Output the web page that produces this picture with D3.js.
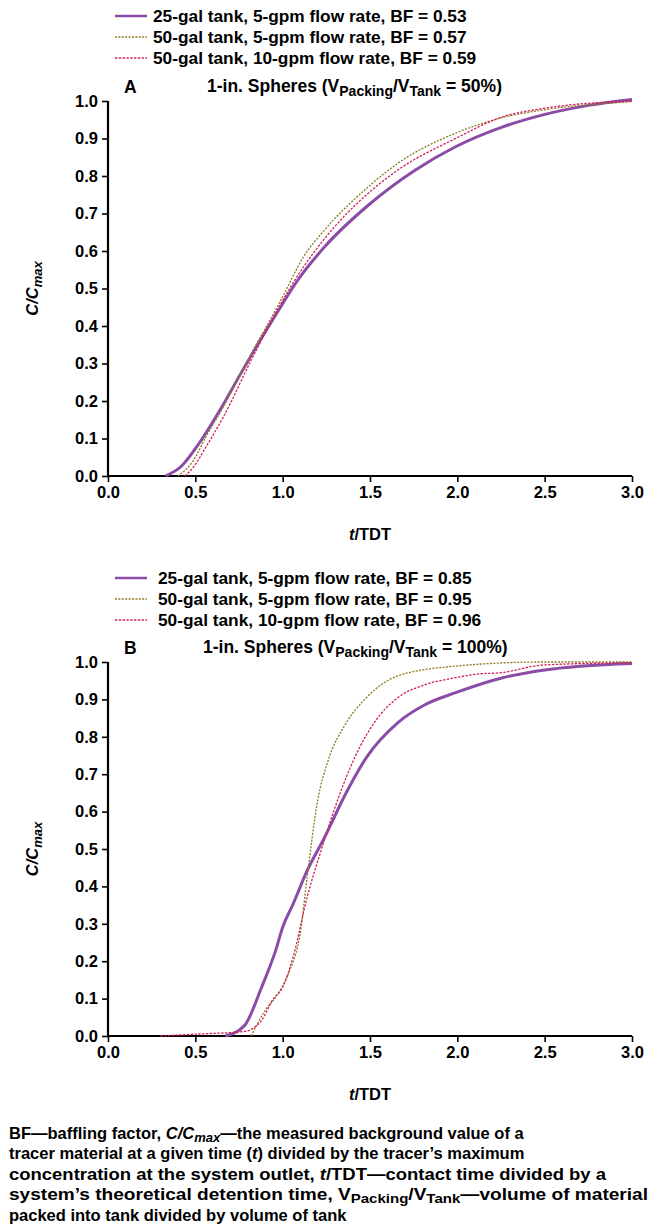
<!DOCTYPE html>
<html>
<head>
<meta charset="utf-8">
<script src="https://cdn.jsdelivr.net/npm/d3@7"></script>
<style>
  body { margin: 0; background: #fff; }
  svg { display: block; font-family: "Liberation Sans", Arial, Helvetica, sans-serif; font-weight: bold; }
</style>
</head>
<body>
<svg id="chart" width="658" height="1226"></svg>
<script>
// --- Data (t/TDT, C/Cmax) ---
const xTicks = [0.0, 0.5, 1.0, 1.5, 2.0, 2.5, 3.0];
const yTicks = [0.0, 0.1, 0.2, 0.3, 0.4, 0.5, 0.6, 0.7, 0.8, 0.9, 1.0];

const legendA = [
  "25-gal tank, 5-gpm flow rate, BF = 0.53",
  "50-gal tank, 5-gpm flow rate, BF = 0.57",
  "50-gal tank, 10-gpm flow rate, BF = 0.59"
];
const legendB = [
  "25-gal tank, 5-gpm flow rate, BF = 0.85",
  "50-gal tank, 5-gpm flow rate, BF = 0.95",
  "50-gal tank, 10-gpm flow rate, BF = 0.96"
];

// Panel A: 50% packing
const a25gal5gpm = [[0.33,0],[0.42,0.026],[0.52,0.086],[0.64,0.175],[0.76,0.273],[0.86,0.353],[0.99,0.452],[1.08,0.518],[1.24,0.611],[1.49,0.722],[1.76,0.816],[1.99,0.878],[2.26,0.931],[2.49,0.963],[2.76,0.989],[3.0,1.004]];
const a50gal5gpm = [[0.40,0],[0.49,0.042],[0.56,0.104],[0.66,0.184],[0.82,0.326],[0.99,0.469],[1.12,0.585],[1.24,0.656],[1.49,0.771],[1.66,0.834],[1.99,0.914],[2.26,0.956],[2.49,0.976],[3.0,0.998]];
const a50gal10gpm = [[0.44,0],[0.49,0.024],[0.56,0.077],[0.66,0.157],[0.82,0.309],[0.99,0.46],[1.12,0.558],[1.24,0.633],[1.49,0.754],[1.66,0.816],[1.99,0.9],[2.26,0.958],[2.49,0.98],[3.0,1.0]];

// Panel B: 100% packing
const b25gal5gpm = [[0.67,0],[0.78,0.027],[0.88,0.131],[0.96,0.229],[1.0,0.291],[1.06,0.353],[1.14,0.442],[1.24,0.531],[1.36,0.647],[1.48,0.745],[1.66,0.838],[1.82,0.887],[1.99,0.918],[2.26,0.958],[2.49,0.978],[3.0,0.996]];
const b50gal5gpm = [[0.82,0],[0.90,0.069],[0.96,0.104],[1.04,0.175],[1.10,0.273],[1.14,0.424],[1.20,0.629],[1.26,0.736],[1.36,0.834],[1.48,0.905],[1.66,0.963],[1.99,0.989],[2.49,1.0],[3.0,1.0]];
const b50gal10gpm = [[0.30,0],[0.5,0.005],[0.78,0.012],[0.88,0.042],[0.94,0.095],[1.0,0.131],[1.06,0.211],[1.14,0.371],[1.22,0.496],[1.32,0.638],[1.44,0.771],[1.56,0.86],[1.66,0.905],[1.82,0.94],[1.99,0.958],[2.1,0.967],[2.26,0.972],[2.49,0.992],[3.0,0.998]];

const seriesStyles = [
  { color: "#8a4ca6", width: 3, dash: null },
  { color: "#8c7a1e", width: 1.3, dash: "2,1.4" },
  { color: "#d2205a", width: 1.3, dash: "2.4,1.4" }
];

const svg = d3.select("#chart");

function drawPanel(opts) {
  const x = d3.scaleLinear().domain([0, 3]).range([108, 632]);
  const y = d3.scaleLinear().domain([0, 1]).range([opts.bottom, opts.top]);

  // legend
  const leg = svg.append("g");
  opts.legend.forEach((label, i) => {
    const st = seriesStyles[i];
    const ly = opts.legendY + i * 21;
    leg.append("line")
      .attr("x1", 115).attr("x2", 147).attr("y1", ly).attr("y2", ly)
      .attr("stroke", st.color).attr("stroke-width", st.width === 3 ? 2.5 : 1.3)
      .attr("stroke-dasharray", st.dash);
    leg.append("text")
      .attr("x", opts.legendTextX).attr("y", ly + 6)
      .attr("font-size", 17.3)
      .text(label);
  });

  // panel letter and title
  svg.append("text").attr("x", 124).attr("y", opts.top - 8)
    .attr("font-size", 17.5).text(opts.letter);
  const title = svg.append("text").attr("x", opts.titleX).attr("y", opts.top - 9)
    .attr("font-size", 17.5);
  title.append("tspan").text("1-in. Spheres (V");
  title.append("tspan").attr("font-size", 14).attr("dy", 4).text("Packing");
  title.append("tspan").attr("dy", -4).text("/V");
  title.append("tspan").attr("font-size", 14).attr("dy", 4).text("Tank");
  title.append("tspan").attr("dy", -4).text(" = " + opts.pct + ")");

  // axes
  const xAxis = svg.append("g")
    .attr("transform", `translate(0,${opts.bottom})`)
    .call(d3.axisBottom(x).tickValues(xTicks).tickFormat(d3.format(".1f")).tickSize(6).tickPadding(4));
  const yAxis = svg.append("g")
    .attr("transform", "translate(108,0)")
    .call(d3.axisLeft(y).tickValues(yTicks).tickFormat(d3.format(".1f")).tickSize(6).tickPadding(4));
  [xAxis, yAxis].forEach(ax => {
    ax.select(".domain").attr("stroke", "#000").attr("stroke-width", 2.2);
    ax.selectAll(".tick line").attr("stroke", "#000").attr("stroke-width", 1.6);
    ax.selectAll(".tick text")
      .attr("fill", "#000")
      .attr("font-family", "'Liberation Sans', Arial, Helvetica, sans-serif")
      .attr("font-weight", "bold")
      .attr("font-size", 16.5);
  });
  // drop the outer tick caps that d3 draws on the domain path
  xAxis.select(".domain").attr("d", `M108,0H632`);
  yAxis.select(".domain").attr("d", `M0,${opts.top}V${opts.bottom}`);

  // axis titles
  const yl = svg.append("text")
    .attr("transform", `translate(38,${(opts.top + opts.bottom) / 2}) rotate(-90)`)
    .attr("text-anchor", "middle").attr("font-size", 16.5).attr("font-style", "italic");
  yl.append("tspan").text("C/C");
  yl.append("tspan").attr("font-size", 13).attr("dy", 4).text("max");

  const xl = svg.append("text")
    .attr("x", 370).attr("y", opts.bottom + 64)
    .attr("text-anchor", "middle").attr("font-size", 16.5);
  xl.append("tspan").attr("font-style", "italic").text("t");
  xl.append("tspan").text("/TDT");

  // curves
  const line = d3.line().x(d => x(d[0])).y(d => y(d[1])).curve(d3.curveMonotoneX);
  opts.series.forEach((data, i) => {
    const st = seriesStyles[i];
    svg.append("path")
      .datum(data)
      .attr("fill", "none")
      .attr("stroke", st.color)
      .attr("stroke-width", st.width)
      .attr("stroke-dasharray", st.dash)
      .attr("stroke-linejoin", "round")
      .attr("d", line);
  });
}

drawPanel({
  top: 101, bottom: 476, legendY: 16, legendTextX: 153, letter: "A", titleX: 207, pct: "50%",
  legend: legendA, series: [a25gal5gpm, a50gal5gpm, a50gal10gpm]
});
drawPanel({
  top: 662, bottom: 1036, legendY: 578, legendTextX: 158, letter: "B", titleX: 203, pct: "100%",
  legend: legendB, series: [b25gal5gpm, b50gal5gpm, b50gal10gpm]
});

// --- Footnote ---
const note = svg.append("g").attr("font-size", 16.5);
const noteLines = [
  [["BF\u2014baffling factor, ", ""], ["C/C", "i"], ["max", "isub"], ["\u2014the measured background value of a", ""]],
  [["tracer material at a given time (", ""], ["t", "i"], [") divided by the tracer\u2019s maximum", ""]],
  [["concentration at the system outlet, ", ""], ["t", "i"], ["/TDT\u2014contact time divided by a", ""]],
  [["system\u2019s theoretical detention time, V", ""], ["Packing", "sub"], ["/V", ""], ["Tank", "sub"], ["\u2014volume of material", ""]],
  [["packed into tank divided by volume of tank", ""]]
];
// only the two widest lines are stretched to their measured width
const noteWidths = [null, null, 597, 639, null];
noteLines.forEach((parts, i) => {
  const t = note.append("text").attr("x", 9).attr("y", 1139 + i * 20.4);
  if (noteWidths[i]) t.attr("textLength", noteWidths[i]).attr("lengthAdjust", "spacingAndGlyphs");
  let down = false;
  parts.forEach(([s, kind]) => {
    const sp = t.append("tspan").text(s);
    const isSub = kind.includes("sub");
    if (kind.includes("i")) sp.attr("font-style", "italic");
    if (isSub) sp.attr("font-size", 13);
    if (isSub && !down) { sp.attr("dy", 3); down = true; }
    else if (!isSub && down) { sp.attr("dy", -3); down = false; }
  });
});
</script>
</body>
</html>
